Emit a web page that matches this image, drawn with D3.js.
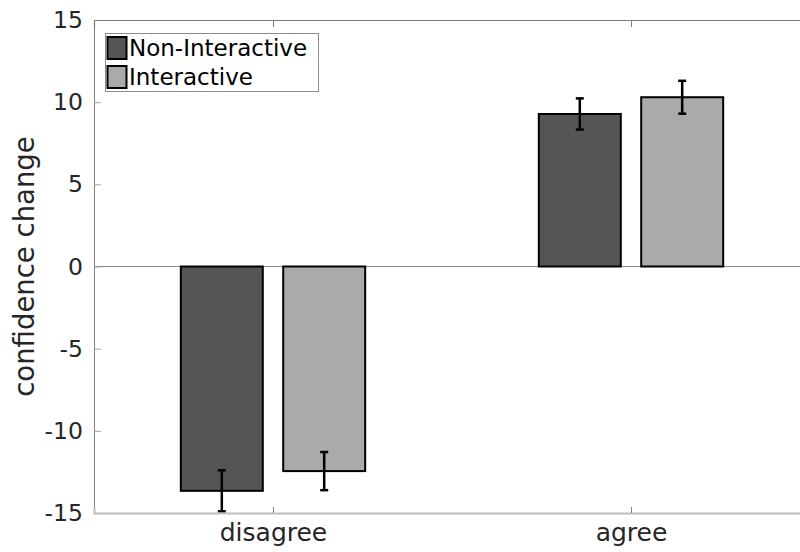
<!DOCTYPE html>
<html>
<head>
<meta charset="utf-8">
<script src="https://cdn.jsdelivr.net/npm/d3@7"></script>
<style>
  html, body { margin: 0; padding: 0; background: #fff; }
  svg { display: block; font-family: "DejaVu Sans", sans-serif; }
</style>
</head>
<body>
<svg id="chart" width="800" height="552"></svg>
<script>
// Grouped bar chart: confidence change by response type and condition
const categories = ["disagree", "agree"];
const seriesNames = ["Non-Interactive", "Interactive"];
const seriesColors = ["#555555", "#aaaaaa"];
const nonInteractive = [-13.65, 9.28];
const interactive = [-12.45, 10.30];
const nonInteractiveErr = [1.25, 0.95];
const interactiveErr = [1.16, 1.00];
const yTicks = [-15, -10, -5, 0, 5, 10, 15];

const series = [
  { name: seriesNames[0], color: seriesColors[0], values: nonInteractive, err: nonInteractiveErr },
  { name: seriesNames[1], color: seriesColors[1], values: interactive, err: interactiveErr }
];

const svg = d3.select("#chart");
const plotLeft = 94, plotTop = 20, plotBottom = 513, plotRight = 810;

const x = d3.scaleLinear().domain([0.5, 2.5]).range([plotLeft, plotRight]);
const y = d3.scaleLinear().domain([-15, 15]).range([plotBottom, plotTop]);

const barW = 0.229;
const offsets = [-0.143, 0.143];
const textColor = "#262626";

// zero reference line
svg.append("line")
  .attr("x1", plotLeft).attr("x2", 800)
  .attr("y1", y(0)).attr("y2", y(0))
  .attr("stroke", "#8a8a8a").attr("stroke-width", 1);

// bars
series.forEach((s, si) => {
  const g = svg.append("g");
  g.selectAll("rect").data(s.values).join("rect")
    .attr("x", (d, i) => x(i + 1 + offsets[si] - barW / 2))
    .attr("width", x(barW) - x(0))
    .attr("y", d => y(Math.max(0, d)))
    .attr("height", d => Math.abs(y(d) - y(0)))
    .attr("fill", s.color)
    .attr("stroke", "#000").attr("stroke-width", 2);

  // error bars
  s.values.forEach((d, i) => {
    const cx = x(i + 1 + offsets[si]);
    const lo = y(d - s.err[i]), hi = y(d + s.err[i]);
    const eb = svg.append("g").attr("stroke", "#000").attr("stroke-width", 2.5);
    eb.append("line").attr("x1", cx).attr("x2", cx).attr("y1", lo).attr("y2", hi);
    eb.append("line").attr("x1", cx - 4).attr("x2", cx + 4).attr("y1", lo).attr("y2", lo);
    eb.append("line").attr("x1", cx - 4).attr("x2", cx + 4).attr("y1", hi).attr("y2", hi);
  });
});

// left axis
const yAxis = svg.append("g").attr("transform", `translate(${plotLeft},0)`)
  .call(d3.axisLeft(y).tickValues(yTicks).tickSize(-7).tickPadding(11).tickFormat(d => String(d)));
yAxis.select(".domain").attr("stroke", "#808080").attr("stroke-width", 1);
yAxis.selectAll(".tick line").attr("stroke", "#a0a0a0");
yAxis.selectAll(".tick text").attr("fill", textColor).attr("font-size", 23.5)
  .attr("font-family", "DejaVu Sans, sans-serif");

// bottom axis
const xAxis = svg.append("g").attr("transform", `translate(0,${plotBottom})`)
  .call(d3.axisBottom(x).tickValues([1, 2]).tickSize(-6).tickPadding(10)
    .tickFormat(d => categories[d - 1]));
xAxis.select(".domain").attr("stroke", "#bdbdbd").attr("stroke-width", 2);
xAxis.selectAll(".tick line").attr("stroke", "#808080");
xAxis.selectAll(".tick text").attr("fill", textColor).attr("font-size", 25)
  .attr("font-family", "DejaVu Sans, sans-serif");

// top box edge
const xTop = svg.append("g").attr("transform", `translate(0,${plotTop})`)
  .call(d3.axisTop(x).tickValues([1, 2]).tickSize(-7).tickFormat(""));
xTop.select(".domain").attr("stroke", "#7a7a7a").attr("stroke-width", 1.2);
xTop.selectAll(".tick line").attr("stroke", "#808080");

// y-axis title
svg.append("text")
  .attr("transform", `translate(34,${(plotTop + plotBottom) / 2}) rotate(-90)`)
  .attr("text-anchor", "middle")
  .attr("fill", textColor).attr("font-size", 27.5)
  .text("confidence change");

// legend
const lg = svg.append("g");
lg.append("rect").attr("x", 105.5).attr("y", 33.5).attr("width", 213).attr("height", 58)
  .attr("fill", "#fff").attr("stroke", "#8c8c8c").attr("stroke-width", 1);
series.forEach((s, i) => {
  lg.append("rect").attr("x", 107.5).attr("y", 37 + i * 29).attr("width", 19).attr("height", 22)
    .attr("fill", s.color).attr("stroke", "#000").attr("stroke-width", 2);
  lg.append("text").attr("x", 129).attr("y", 56 + i * 29)
    .attr("fill", "#000").attr("font-size", 23)
    .text(s.name);
});
</script>
</body>
</html>
